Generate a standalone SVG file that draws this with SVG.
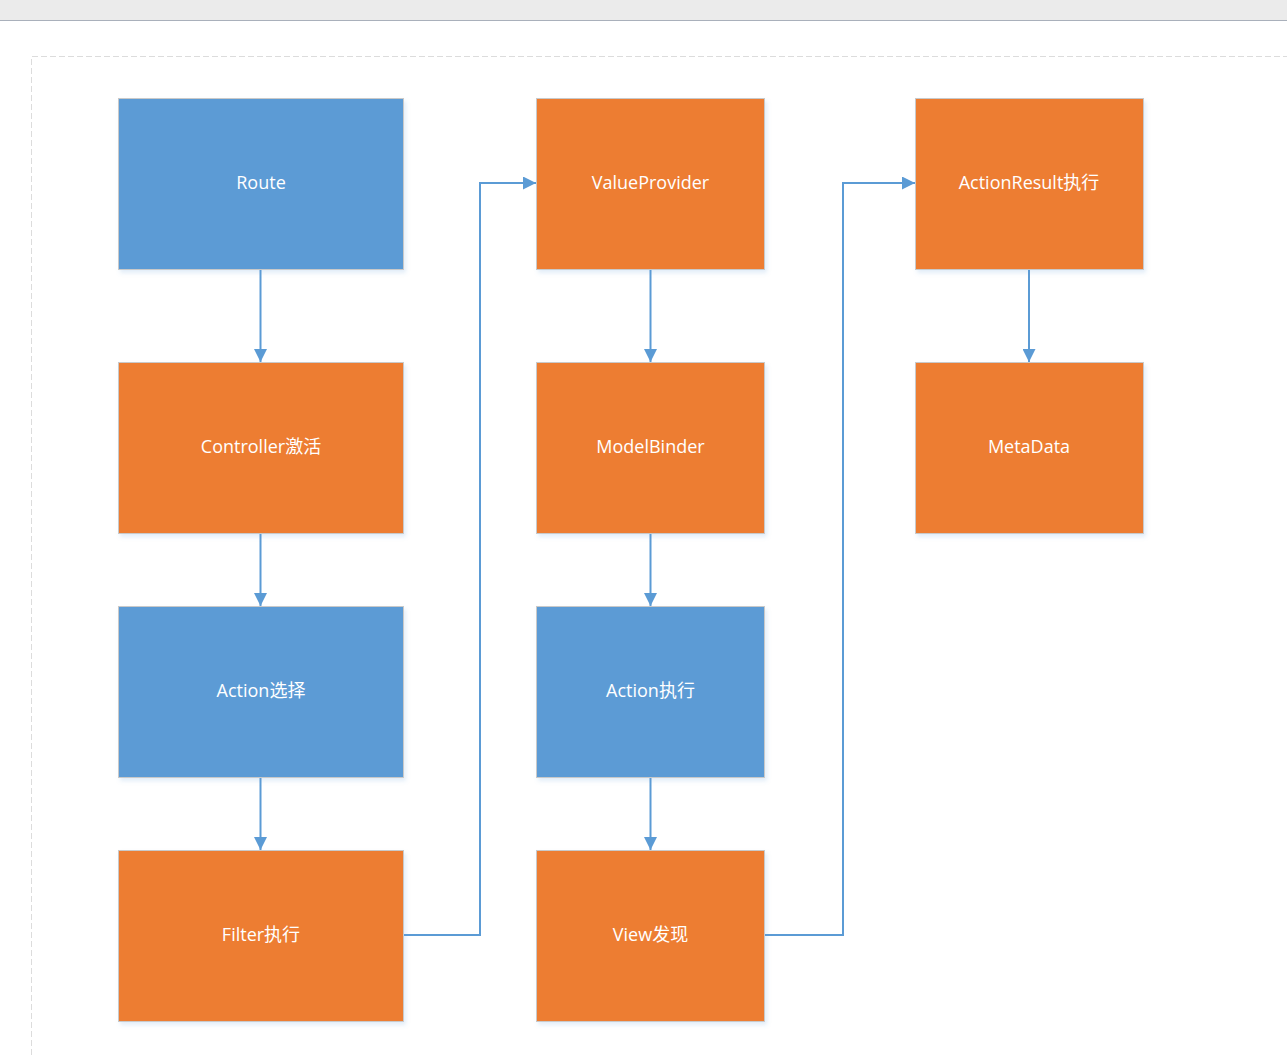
<svg xmlns="http://www.w3.org/2000/svg" width="1287" height="1055" viewBox="0 0 1287 1055">
<defs>
<style>
.node rect{stroke:#c9c9c9;stroke-width:1}
.blue{fill:#5b9bd5}
.orange{fill:#ed7d31}
.lbl{font-family:"Open Sans","Noto Sans","Noto Sans CJK SC",sans-serif;font-size:18px;fill:#ffffff;text-anchor:middle;dominant-baseline:central}
.conn{fill:none;stroke:#5b9bd5;stroke-width:2}
</style>
<marker id="ah" markerWidth="13" markerHeight="13" refX="13" refY="6.5" orient="auto" markerUnits="userSpaceOnUse">
<path d="M0,0 L13,6.5 L0,13 Z" fill="#5b9bd5"/>
</marker>
<filter id="sh" x="-5%" y="-5%" width="115%" height="115%">
<feDropShadow dx="2" dy="3" stdDeviation="2" flood-color="#5b9bd5" flood-opacity="0.18"/>
</filter>
</defs>
<rect x="0" y="0" width="1287" height="1055" fill="#ffffff"/>
<rect x="0" y="0" width="1287" height="20" fill="#ebebeb"/>
<line x1="0" y1="20.5" x2="1287" y2="20.5" stroke="#a9b0bb" stroke-width="1"/>
<path d="M31.5,1055 V56.5 H1287" fill="none" stroke="#dcdcdc" stroke-width="1" stroke-dasharray="6,3"/>

<g id="connectors">
<line class="conn" x1="260.5" y1="269" x2="260.5" y2="362" marker-end="url(#ah)"/>
<line class="conn" x1="260.5" y1="533" x2="260.5" y2="606" marker-end="url(#ah)"/>
<line class="conn" x1="260.5" y1="777" x2="260.5" y2="850" marker-end="url(#ah)"/>
<polyline class="conn" points="403,935 480,935 480,183 536,183" marker-end="url(#ah)"/>
<line class="conn" x1="650.5" y1="269" x2="650.5" y2="362" marker-end="url(#ah)"/>
<line class="conn" x1="650.5" y1="533" x2="650.5" y2="606" marker-end="url(#ah)"/>
<line class="conn" x1="650.5" y1="777" x2="650.5" y2="850" marker-end="url(#ah)"/>
<polyline class="conn" points="764,935 843,935 843,183 915,183" marker-end="url(#ah)"/>
<line class="conn" x1="1029" y1="269" x2="1029" y2="362" marker-end="url(#ah)"/>
</g>

<g id="route" class="node"><rect class="blue" x="118.5" y="98.5" width="285" height="171" filter="url(#sh)"/><text class="lbl" x="261" y="182">Route</text></g>
<g id="controller" class="node"><rect class="orange" x="118.5" y="362.5" width="285" height="171" filter="url(#sh)"/><text class="lbl" x="261" y="446">Controller激活</text></g>
<g id="action-select" class="node"><rect class="blue" x="118.5" y="606.5" width="285" height="171" filter="url(#sh)"/><text class="lbl" x="261" y="690">Action选择</text></g>
<g id="filter" class="node"><rect class="orange" x="118.5" y="850.5" width="285" height="171" filter="url(#sh)"/><text class="lbl" x="261" y="934">Filter执行</text></g>

<g id="valueprovider" class="node"><rect class="orange" x="536.5" y="98.5" width="228" height="171" filter="url(#sh)"/><text class="lbl" x="650.5" y="182">ValueProvider</text></g>
<g id="modelbinder" class="node"><rect class="orange" x="536.5" y="362.5" width="228" height="171" filter="url(#sh)"/><text class="lbl" x="650.5" y="446">ModelBinder</text></g>
<g id="action-exec" class="node"><rect class="blue" x="536.5" y="606.5" width="228" height="171" filter="url(#sh)"/><text class="lbl" x="650.5" y="690">Action执行</text></g>
<g id="view" class="node"><rect class="orange" x="536.5" y="850.5" width="228" height="171" filter="url(#sh)"/><text class="lbl" x="650.5" y="934">View发现</text></g>

<g id="actionresult" class="node"><rect class="orange" x="915.5" y="98.5" width="228" height="171" filter="url(#sh)"/><text class="lbl" x="1029" y="182">ActionResult执行</text></g>
<g id="metadata" class="node"><rect class="orange" x="915.5" y="362.5" width="228" height="171" filter="url(#sh)"/><text class="lbl" x="1029" y="446">MetaData</text></g>
</svg>
